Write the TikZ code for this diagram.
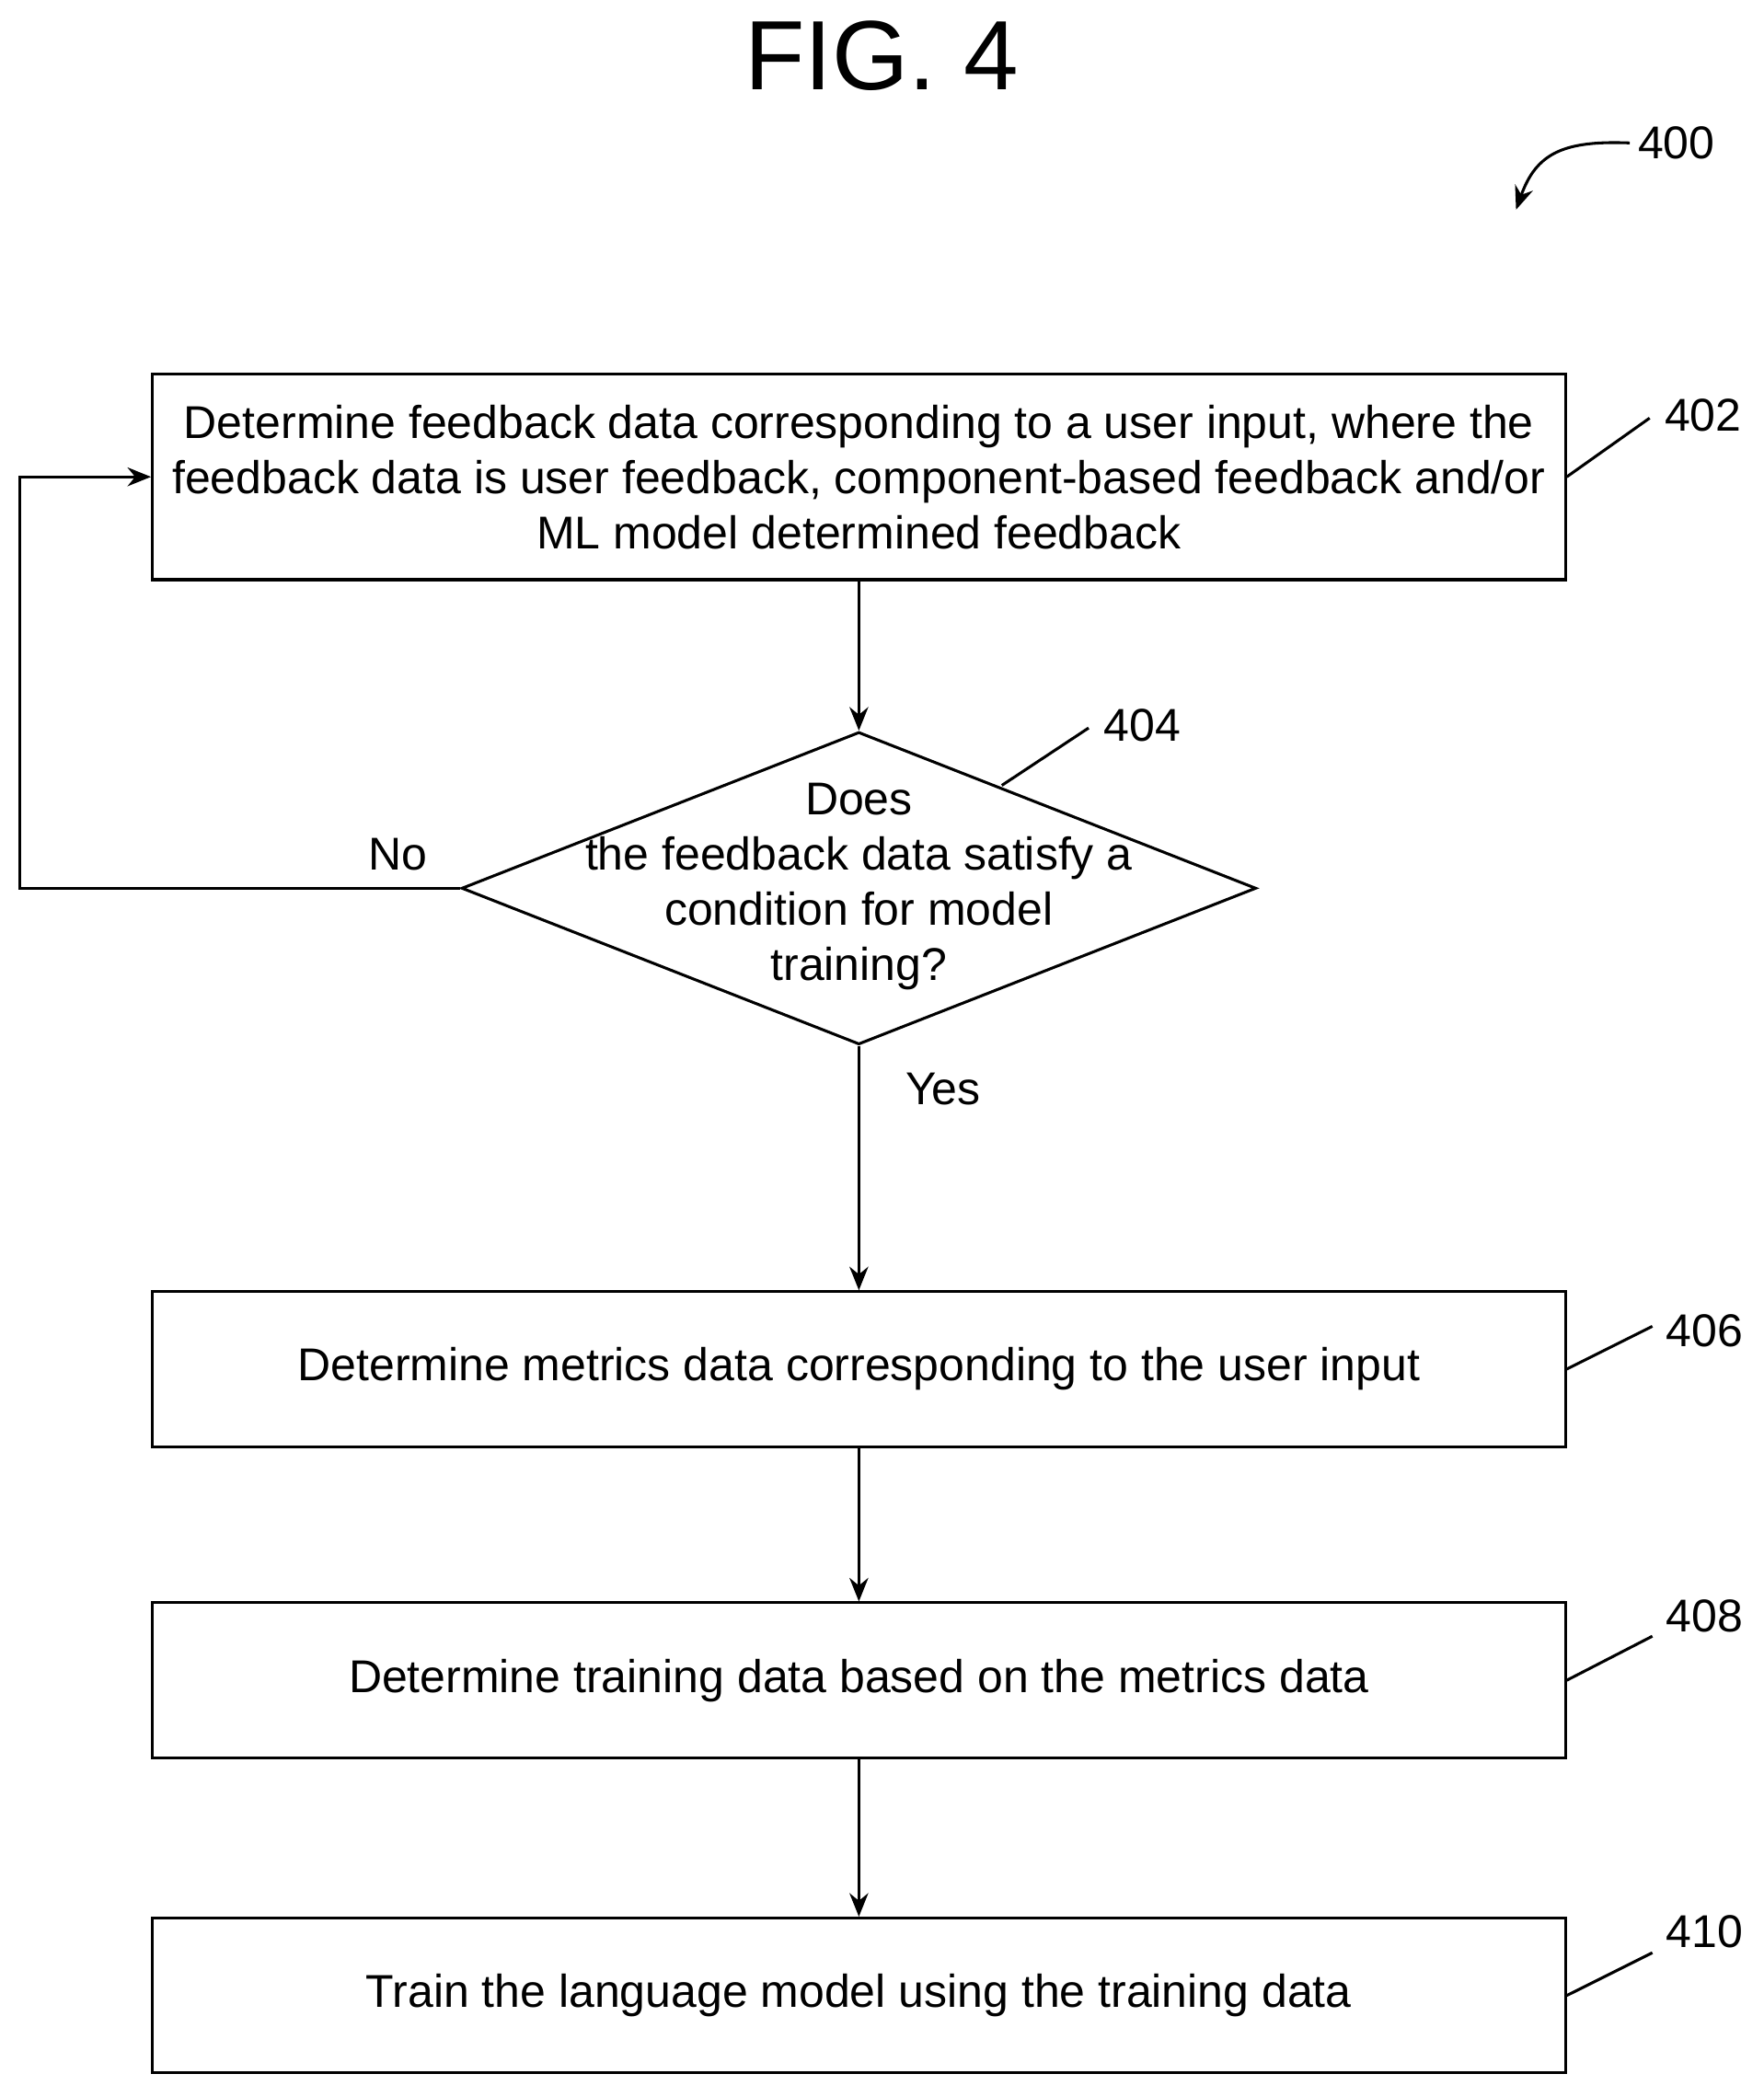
\documentclass[tikz,border=0pt]{standalone}
\usepackage{fontspec}
\setmainfont{Liberation Sans}
\usetikzlibrary{shapes.geometric,arrows.meta}
\begin{document}
\begin{tikzpicture}[x=0.02cm,y=-0.02cm,
  box/.style={draw,line width=1.2pt,minimum width=21.16cm,inner sep=0pt,align=center,font=\fontsize{19.6}{23.5}\selectfont},
  lab/.style={font=\fontsize{19.6}{22}\selectfont},
  arr/.style={line width=1.2pt,-{Stealth[length=10pt,width=8pt]}},
  lead/.style={line width=1.2pt}]
\useasboundingbox (0,0) rectangle (1320,1570);
\node[font=\fontsize{42}{48}\selectfont] (fig) at (660,42) {FIG. 4};
\node[lab] (n400) at (1255,107) {400};
\coordinate (c400) at (1135,157);
\draw[arr] (n400.west) .. controls (1170,105) and (1150,115) .. (c400);
\node[box,minimum height=3.08cm] (b402) at (643,357) {Determine feedback data corresponding to a user input, where the\\feedback data is user feedback, component-based feedback and/or\\ML model determined feedback};
\node[draw,line width=1.2pt,diamond,aspect=2.54,minimum width=11.9cm,minimum height=4.68cm,inner sep=0pt] (d404) at (643,665) {};
\node[align=center,font=\fontsize{19.6}{23.5}\selectfont] (t404) at (643,664) {Does\\the feedback data satisfy a\\condition for model\\training?};
\node[box,minimum height=2.32cm] (b406) at (643,1025) {Determine metrics data corresponding to the user input};
\node[box,minimum height=2.32cm] (b408) at (643,1258) {Determine training data based on the metrics data};
\node[box,minimum height=2.32cm] (b410) at (643,1494) {Train the language model using the training data};
\node[lab] (n402) at (1275,311) {402};
\node[lab] (n404) at (855,543) {404};
\node[lab] (n406) at (1276,996) {406};
\node[lab] (n408) at (1276,1210) {408};
\node[lab] (n410) at (1276,1446) {410};
\node[lab] (no) at (298,640) {No};
\node[lab] (yes) at (706,815) {Yes};
\coordinate (l402) at (1235,313);
\coordinate (l404a) at (750,588);
\coordinate (l404b) at (815,545);
\coordinate (l406) at (1237,993);
\coordinate (l408) at (1237,1225);
\coordinate (l410) at (1237,1462);
\draw[lead] (b402.east) -- (l402);
\draw[lead] (l404a) -- (l404b);
\draw[lead] (b406.east) -- (l406);
\draw[lead] (b408.east) -- (l408);
\draw[lead] (b410.east) -- (l410);
\draw[arr] (b402.south) -- (d404.north);
\draw[arr] (d404.south) -- (b406.north);
\draw[arr] (b406.south) -- (b408.north);
\draw[arr] (b408.south) -- (b410.north);
\coordinate (lp1) at (15,665);
\coordinate (lp2) at (15,357);
\draw[arr] (d404.west) -- (lp1) -- (lp2) -- (b402.west);
\end{tikzpicture}
\end{document}
